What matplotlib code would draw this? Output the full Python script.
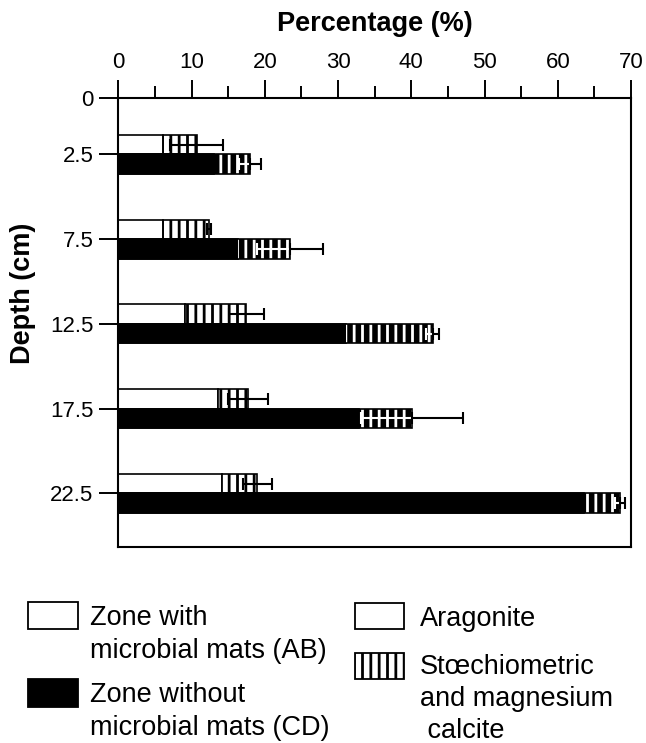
import numpy as np
import matplotlib
matplotlib.use("Agg")
from matplotlib import pyplot as plt
from matplotlib.patches import Rectangle

# depth classes (cm)
depths = ['2.5', '7.5', '12.5', '17.5', '22.5']

# zone with microbial mats (AB)
ab_aragonite = [6.1, 6.1, 9.1, 13.6, 14.2]
ab_calcite = [4.6, 6.3, 8.4, 4.1, 4.8]
ab_err = [3.6, 0.3, 2.4, 2.7, 2.0]

# zone without microbial mats (CD)
cd_aragonite = [13.0, 16.3, 31.1, 32.9, 63.6]
cd_calcite = [5.0, 7.2, 11.8, 7.2, 4.9]
cd_err = [1.5, 4.5, 0.9, 7.0, 0.7]

W, H = 646, 743
plt.rcParams['font.family'] = ['Liberation Sans', 'DejaVu Sans']
plt.rcParams['hatch.linewidth'] = 2.0

fig = plt.figure(figsize=(W / 100, H / 100), dpi=100)


def fx(x):
    return x / W


def fy(y):
    return 1 - y / H


ax = fig.add_axes([fx(118.3), fy(546.7), fx(631) - fx(118.3), fy(98.3) - fy(546.7)])

pos = np.arange(len(depths))
h = 0.23
ab_tot = np.array(ab_aragonite) + np.array(ab_calcite)
cd_tot = np.array(cd_aragonite) + np.array(cd_calcite)
zeros = np.zeros(len(depths))

# AB bars (above the tick)
ax.barh(pos - h / 2, ab_aragonite, height=h, color='white', edgecolor='black', linewidth=1.2)
ax.barh(pos - h / 2, ab_calcite, left=ab_aragonite, height=h, color='white',
        edgecolor='black', linewidth=1.2, hatch='||')
ax.errorbar(ab_tot, pos - h / 2, xerr=ab_err, fmt='none', ecolor='black',
            elinewidth=1.5, capsize=4, capthick=1.5, zorder=5)

# CD bars (below the tick)
ax.barh(pos + h / 2, cd_aragonite, height=h, color='black', edgecolor='black', linewidth=1.2)
ax.barh(pos + h / 2, cd_calcite, left=cd_aragonite, height=h, color='black',
        edgecolor='white', linewidth=0, hatch='||')
ax.barh(pos + h / 2, cd_tot, height=h, fill=False, edgecolor='black', linewidth=1.2)
ax.errorbar(cd_tot, pos + h / 2, xerr=[cd_err, zeros], fmt='none', ecolor='white',
            elinewidth=1.5, capsize=4, capthick=1.5, zorder=5)
ax.errorbar(cd_tot, pos + h / 2, xerr=[zeros, cd_err], fmt='none', ecolor='black',
            elinewidth=1.5, capsize=4, capthick=1.5, zorder=6)

top = -56.0 / 84.75
ax.set_ylim(len(depths) - 1 + 53.4 / 84.75, top)
ax.set_xlim(0, 70)

ax.set_yticks([top] + list(pos))
ax.set_yticklabels(['0'] + depths)
ax.set_xticks(np.arange(0, 71, 10))
ax.set_xticks(np.arange(5, 70, 10), minor=True)

ax.xaxis.tick_top()
ax.xaxis.set_label_position('top')
ax.tick_params(axis='x', which='major', length=13, width=1.4, pad=5, labelsize=16)
ax.tick_params(axis='x', which='minor', length=9, width=1.4)
ax.tick_params(axis='y', length=13.5, width=1.4, pad=4.5, labelsize=16)
for s in ax.spines.values():
    s.set_linewidth(1.5)

ax.set_xlabel('Percentage (%)', fontsize=19.5, fontweight='bold', labelpad=15)
ax.set_ylabel('Depth (cm)', fontsize=19.5, fontweight='bold')
ax.yaxis.set_label_coords((36 - 118.3) / (631 - 118.3), 1 - (293 - 98.3) / (546.7 - 98.3))

# legend drawn by hand
fs = 19.5


def box(x0, y0, x1, y1, **kw):
    r = Rectangle((fx(x0), fy(y1)), fx(x1) - fx(x0), fy(y0) - fy(y1),
                  transform=fig.transFigure, linewidth=1.3, edgecolor='black', **kw)
    fig.add_artist(r)


box(28.3, 601.7, 78.3, 629, facecolor='white')
box(28.3, 679.3, 78.3, 706.7, facecolor='black')
box(355, 602.7, 404, 629.3, facecolor='white')
box(355, 653.3, 404, 679.3, facecolor='white', hatch='||')

ls = 1.36
fig.text(fx(90), fy(605), 'Zone with\nmicrobial mats (AB)', fontsize=fs, va='top', linespacing=ls)
fig.text(fx(90), fy(682), 'Zone without\nmicrobial mats (CD)', fontsize=fs, va='top', linespacing=ls)
fig.text(fx(420), fy(606), 'Aragonite', fontsize=fs, va='top')
fig.text(fx(420), fy(654), 'Stœchiometric\nand magnesium\n calcite', fontsize=fs, va='top', linespacing=1.31)

fig.savefig('out.png', dpi=100)
